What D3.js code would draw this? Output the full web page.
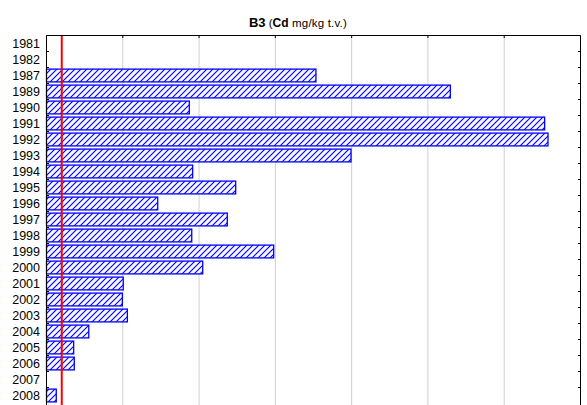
<!DOCTYPE html>
<html><head><meta charset="utf-8">
<script src="https://cdn.jsdelivr.net/npm/d3@7/dist/d3.min.js"></script>
<style>body{margin:0;background:#fff}svg{display:block;font-family:"Liberation Sans",Arial,sans-serif}</style>
</head><body><div id="chart"></div>
<script>
const years = ["1981","1982","1987","1989","1990","1991","1992","1993","1994","1995","1996","1997","1998","1999","2000","2001","2002","2003","2004","2005","2006","2007","2008"];
const values = [null,null,1.766,2.647,0.936,3.265,3.287,1.996,0.958,1.240,0.729,1.185,0.952,1.489,1.024,0.503,0.497,0.530,0.277,0.178,0.182,null,0.064];
const xTicks = [0,0.5,1,1.5,2,2.5,3,3.5];
const refValue = 0.1;

const W = 587, H = 405;
const svg = d3.select("#chart").append("svg").attr("width", W).attr("height", H);
const plotLeft = 46.5, plotRight = 580.5, plotTop = 35.5, step = 16;
const x = d3.scaleLinear().domain([0, 3.5]).range([plotLeft, plotRight]);
const y = d3.scaleBand().domain(years).range([plotTop, plotTop + step * years.length]).paddingInner(0).paddingOuter(0);

const defs = svg.append("defs");
const pat = defs.append("pattern").attr("id","hatch").attr("patternUnits","userSpaceOnUse").attr("width",6).attr("height",6);
pat.append("rect").attr("width",6).attr("height",6).attr("fill","#f6f6ff");
pat.append("path").attr("d","M0,6 L6,0 M-1,1 L1,-1 M5,7 L7,5").attr("stroke","#0000ff").attr("stroke-width",1.1);

// grid
svg.append("g").selectAll("line").data(xTicks.slice(1, -1)).join("line")
  .attr("x1", d => x(d)).attr("x2", d => x(d)).attr("y1", plotTop).attr("y2", H)
  .attr("stroke", "#cfcfcf").attr("stroke-width", 1);

// bars
const data = years.map((yr, i) => ({yr, v: values[i]})).filter(d => d.v != null);
svg.append("g").selectAll("rect").data(data).join("rect")
  .attr("x", x(0)).attr("y", d => y(d.yr) + 1.6)
  .attr("width", d => x(d.v) - x(0)).attr("height", y.bandwidth() - 3.2)
  .attr("fill", "url(#hatch)").attr("stroke", "#0000ff").attr("stroke-width", 1.3);

// reference line
svg.append("line").attr("x1", x(refValue)).attr("x2", x(refValue)).attr("y1", plotTop).attr("y2", H)
  .attr("stroke", "#ff0000").attr("stroke-width", 2);

// frame
const frame = svg.append("g").attr("stroke", "#000").attr("stroke-width", 1).attr("fill", "none");
frame.append("line").attr("x1", plotLeft).attr("x2", plotRight).attr("y1", plotTop).attr("y2", plotTop);
frame.append("line").attr("x1", plotLeft).attr("x2", plotLeft).attr("y1", plotTop).attr("y2", H);
frame.append("line").attr("x1", plotRight).attr("x2", plotRight).attr("y1", plotTop).attr("y2", H);

// top ticks
svg.append("g").selectAll("line").data(xTicks).join("line")
  .attr("x1", d => x(d)).attr("x2", d => x(d)).attr("y1", plotTop).attr("y2", plotTop + 2.5)
  .attr("stroke", "#000");

// row boundary ticks
const bounds = years.slice(1).map(yr => y(yr));
svg.append("g").selectAll("line").data(bounds).join("line")
  .attr("x1", plotLeft).attr("x2", plotLeft + 2.5).attr("y1", d => d).attr("y2", d => d).attr("stroke", "#000");
svg.append("g").selectAll("line").data(bounds).join("line")
  .attr("x1", plotRight - 2.5).attr("x2", plotRight).attr("y1", d => d).attr("y2", d => d).attr("stroke", "#000");

// y labels
svg.append("g").selectAll("text").data(years).join("text")
  .attr("x", 40).attr("y", d => y(d) + y.bandwidth() / 2).attr("dy", "0.36em")
  .attr("text-anchor", "end").attr("font-size", "12.5px").attr("fill", "#000").text(d => d);

// title
const t = svg.append("text").attr("x", 298).attr("y", 27).attr("text-anchor", "middle").attr("font-size", "11.5px").attr("fill", "#000");
t.append("tspan").attr("font-weight", "bold").attr("font-size", "13px").text("B3");
t.append("tspan").text(" (");
t.append("tspan").attr("font-weight", "bold").attr("font-size", "12px").text("Cd");
t.append("tspan").attr("letter-spacing", "0.2px").text(" mg/kg t.v.)");
</script></body></html>
